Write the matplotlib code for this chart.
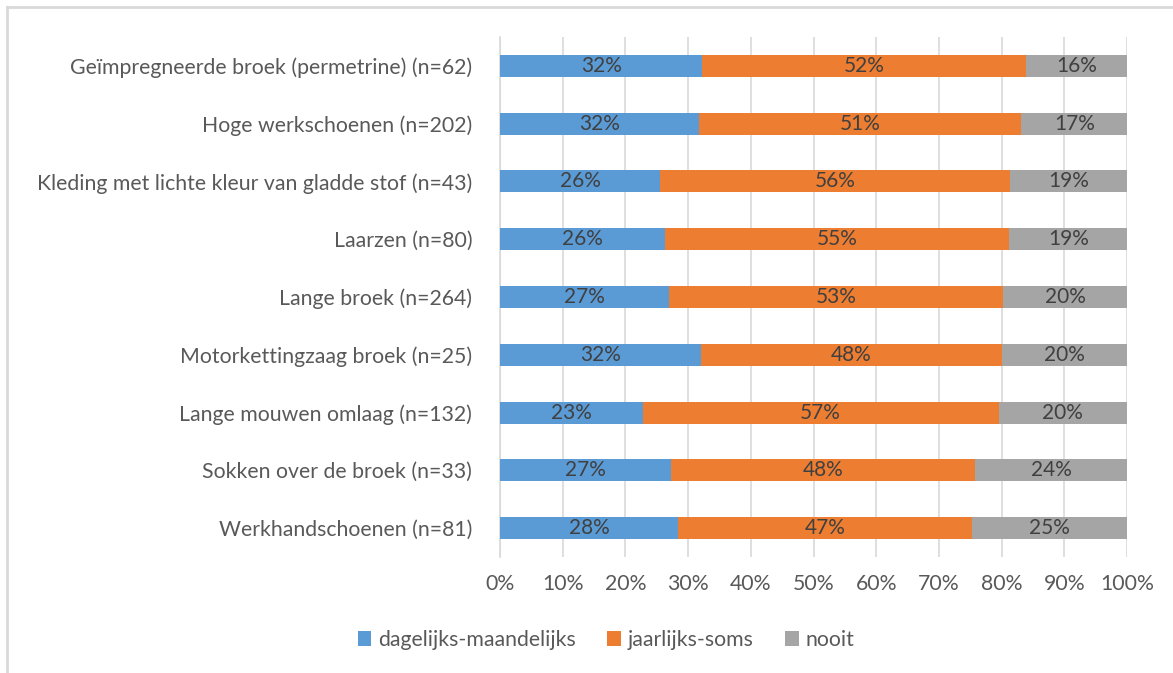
import matplotlib.pyplot as plt
from matplotlib.lines import Line2D
import numpy as np

plt.rcParams['font.family'] = ['Lato', 'DejaVu Sans']

categories = ['Geïmpregneerde broek (permetrine) (n=62)',
              'Hoge werkschoenen (n=202)',
              'Kleding met lichte kleur van gladde stof (n=43)',
              'Laarzen (n=80)',
              'Lange broek (n=264)',
              'Motorkettingzaag broek (n=25)',
              'Lange mouwen omlaag (n=132)',
              'Sokken over de broek (n=33)',
              'Werkhandschoenen (n=81)']
dagelijks = [32.26, 31.68, 25.58, 26.25, 26.89, 32.00, 22.73, 27.27, 28.40]
jaarlijks = [51.61, 51.49, 55.81, 55.00, 53.41, 48.00, 56.82, 48.48, 46.91]
nooit = [16.13, 16.83, 18.60, 18.75, 19.70, 20.00, 20.45, 24.24, 24.69]
series_names = ['dagelijks-maandelijks', 'jaarlijks-soms', 'nooit']
colors = ['#5B9BD5', '#ED7D31', '#A5A5A5']
txt = '#595959'
bar_txt = '#404040'
grid = '#D9D9D9'

fig = plt.figure(figsize=(11.73, 6.73), dpi=100)
ax = fig.add_axes([500/1173, 1-557/673, 627/1173, 520/673])

y = np.arange(len(categories))
left = np.zeros(len(categories))
for vals, name, col in zip([dagelijks, jaarlijks, nooit], series_names, colors):
    vals = np.array(vals)
    bars = ax.barh(y, vals, left=left, height=0.38, color=col, label=name, zorder=3)
    for b, v in zip(bars, vals):
        ax.text(b.get_x() + b.get_width()/2, b.get_y() + b.get_height()/2,
                f'{v:.0f}%', ha='center', va='center', fontsize=15, color=bar_txt, zorder=4)
    left += vals

ax.set_xlim(0, 100)
ax.set_ylim(len(categories) - 0.5, -0.5)
ax.set_yticks(y)
ax.set_yticklabels(categories, fontsize=15.3, color=txt)
ax.set_xticks(np.arange(0, 101, 10))
ax.set_xticklabels([f'{t}%' for t in range(0, 101, 10)], fontsize=15.3, color=txt)
ax.tick_params(axis='both', length=0)
ax.tick_params(axis='y', pad=20)
ax.tick_params(axis='x', pad=12)
ax.grid(axis='x', color=grid, linewidth=1.2, zorder=0)
for s in ['top', 'right', 'bottom']:
    ax.spines[s].set_visible(False)
ax.spines['left'].set_color(grid)
ax.spines['left'].set_linewidth(1.2)

ax.legend(loc='center', bbox_to_anchor=(606/1173, 1-640/673), bbox_transform=fig.transFigure,
          ncol=3, frameon=False, fontsize=15.3, labelcolor=txt, handlelength=0.65,
          handleheight=0.65, handletextpad=0.3, columnspacing=1.5)

# chart border (partly cut off)
fig.add_artist(Line2D([7/1173, 7/1173], [0, 1-7/673], color=grid, linewidth=2, transform=fig.transFigure))
fig.add_artist(Line2D([7/1173, 1], [1-7/673, 1-7/673], color=grid, linewidth=2, transform=fig.transFigure))

fig.savefig('out.png', dpi=100)
